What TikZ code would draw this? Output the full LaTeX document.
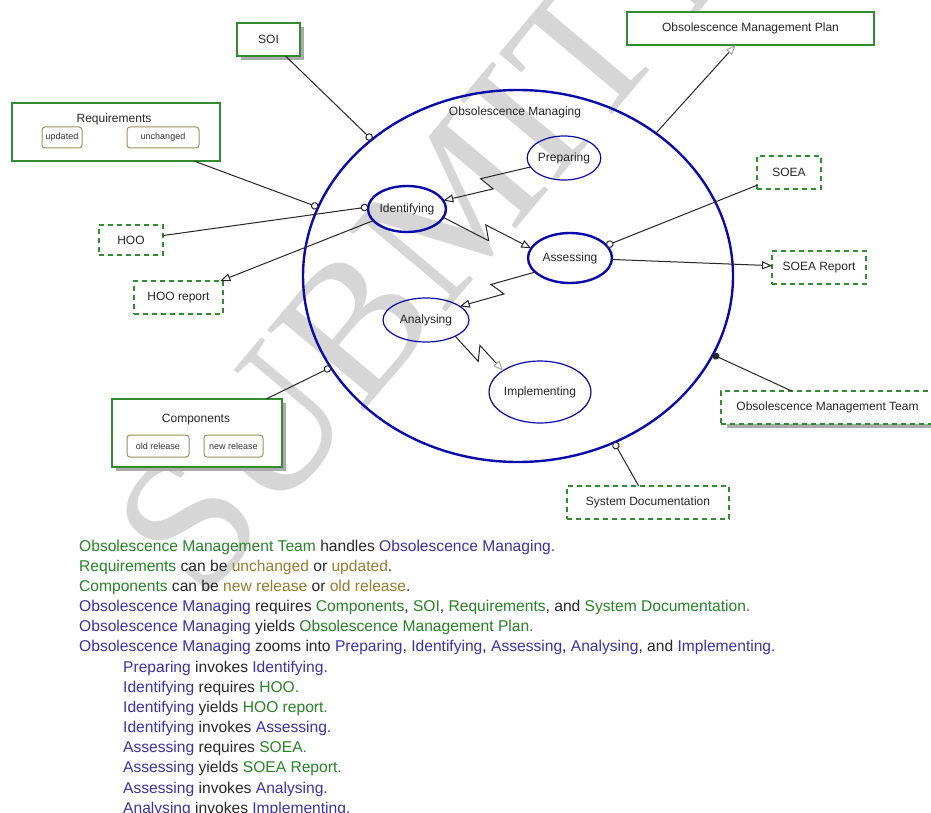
\documentclass[tikz,border=0pt]{standalone}
\usepackage{fontspec}
\setmainfont{Liberation Sans}
\newfontfamily\wmfont{Liberation Serif}
\usetikzlibrary{arrows.meta,calc,shapes.geometric}
\definecolor{objgreen}{RGB}{50,140,50}
\definecolor{procblue}{RGB}{10,10,170}
\definecolor{stateol}{RGB}{150,145,95}
\definecolor{txtblue}{RGB}{60,50,165}
\definecolor{txtgreen}{RGB}{40,130,40}
\definecolor{txtstate}{RGB}{150,125,50}
\definecolor{txtkey}{RGB}{40,40,40}
\definecolor{wmgray}{RGB}{214,214,214}
\definecolor{shadowgray}{RGB}{170,170,170}
\newcommand\tobj[1]{\textcolor{txtgreen}{#1}}
\newcommand\tproc[1]{\textcolor{txtblue}{#1}}
\newcommand\tstate[1]{\textcolor{txtstate}{#1}}
\begin{document}
\begin{tikzpicture}[x=1pt,y=-1pt,
  lbl/.style={font=\fontsize{12}{14}\selectfont, text=black!85},
  objbox/.style={rectangle, draw=objgreen, line width=1.4pt, fill=white, inner sep=0pt, outer sep=0pt, lbl},
  dobjbox/.style={objbox, dash pattern=on 5pt off 4pt},
  statebox/.style={rectangle, rounded corners=3pt, draw=stateol, line width=1pt, fill=white, inner sep=0pt, outer sep=0pt, font=\fontsize{9}{10}\selectfont, text=black!80},
  procthin/.style={ellipse, draw=procblue, line width=1.2pt, inner sep=0pt, outer sep=0pt, lbl},
  procthick/.style={procthin, line width=2.4pt},
  link/.style={draw=black!85, line width=1pt},
  instr/.style={link, -{Circle[length=7.5pt, fill=white]}},
  agent/.style={link, -{Circle[length=7pt]}},
  result/.style={link, -{Triangle[open, length=10pt, width=8pt]}},
  resultgray/.style={link, -{Triangle[open, length=10pt, width=8pt, color=black!35]}},
  invoke/.style={to path={let \p1=(\tikztostart), \p2=(\tikztotarget),
      \n1={atan2(\y2-\y1,\x2-\x1)}, \n2={veclen(\x2-\x1,\y2-\y1)} in
      -- ($(\p1)+(\n1:{(0.5*\n2+4)*1pt})+(\n1-90:7pt)$)
      -- ($(\p1)+(\n1:{(0.5*\n2-4)*1pt})+(\n1+90:7pt)$)
      -- (\p2)}},
  line/.style={anchor=base west, inner sep=0pt, font=\fontsize{15.6}{18}\selectfont, text=txtkey}
]
\useasboundingbox (0,0) rectangle (931,813);
\fill[white] (0,0) rectangle (931,813);
% watermark
\node[rotate=50, font=\wmfont\fontsize{192}{192}\selectfont, text=wmgray, inner sep=0pt] (wm) at (508,142) {SUBMITTED};

% shadows
\fill[shadowgray] (241,27) rectangle (304,60);
\fill[shadowgray] (116,403) rectangle (286,471);
\fill[shadowgray] (727,395) rectangle (940,428);

% big process
\node[procthick, minimum width=430pt, minimum height=372pt] (om) at (518,276) {};
\node[lbl] (omlbl) at (515,112) {Obsolescence Managing};

% sub-processes
\node[procthin, minimum width=72pt, minimum height=44pt] (prep) at (564,158) {Preparing};
\node[procthick, minimum width=78pt, minimum height=46pt] (ident) at (407,209) {Identifying};
\node[procthick, minimum width=84pt, minimum height=50pt] (asses) at (570,258) {Assessing};
\node[procthin, minimum width=86pt, minimum height=44pt] (analys) at (426,320) {Analysing};
\node[procthin, minimum width=90pt, minimum height=62pt] (impl) at (540,392) {Implementing};

% objects
\node[objbox, minimum width=63pt, minimum height=33pt] (soi) at (268.5,39.5) {SOI};
\node[objbox, minimum width=208pt, minimum height=58pt] (req) at (116,132) {};
\node[lbl] (reqlbl) at (114,119) {Requirements};
\node[statebox, minimum width=40pt, minimum height=21pt] (upd) at (62,137.5) {updated};
\node[statebox, minimum width=72pt, minimum height=21pt] (unch) at (163,137.5) {unchanged};
\node[objbox, minimum width=170pt, minimum height=68pt] (comp) at (197,433) {};
\node[lbl] (complbl) at (196,420) {Components};
\node[statebox, minimum width=62pt, minimum height=22pt] (oldr) at (158,446) {old release};
\node[statebox, minimum width=59pt, minimum height=22pt] (newr) at (233.5,446) {new release};
\node[objbox, minimum width=247pt, minimum height=33pt] (omp) at (750.5,28.5) {Obsolescence Management Plan};
\node[dobjbox, minimum width=64pt, minimum height=30pt] (hoo) at (131,240) {HOO};
\node[dobjbox, minimum width=89pt, minimum height=33pt] (hoor) at (178.5,297.5) {HOO report};
\node[dobjbox, minimum width=64pt, minimum height=33pt] (soea) at (789,172.5) {SOEA};
\node[dobjbox, minimum width=94pt, minimum height=33pt] (soear) at (819,267.5) {SOEA Report};
\node[dobjbox, minimum width=213pt, minimum height=33pt] (omt) at (827.5,407.5) {Obsolescence Management Team};
\node[dobjbox, minimum width=162pt, minimum height=33pt] (sd) at (648,502.5) {System Documentation};

% links to the big process
\draw[instr] (soi) -- (om.137);
\draw[instr] (req) -- (om.161);
\draw[instr] (comp) -- (om.206);
\draw[instr] (sd) -- (om.300);
\draw[agent] (omt) -- (om.338);
\draw[resultgray] (om.46) -- (omp);

% links to sub-processes
\draw[instr] (hoo) -- (ident.177);
\draw[result] (ident.199) -- (hoor);
\draw[instr] (soea) -- (asses.19);
\draw[result] (asses.-2) -- (soear);

% invocation links
\draw[result, invoke] (prep.195) to (ident.13);
\draw[result, invoke] (ident.347) to (asses.166);
\draw[result, invoke] (asses.202) to (analys.22);
\draw[resultgray, invoke] (analys.331) to (impl.150);

% OPL text
\node[line] (t1) at (79,551) {\tobj{Obsolescence Management Team} handles \tproc{Obsolescence Managing.}};
\node[line] (t2) at (79,571.2) {\tobj{Requirements} can be \tstate{unchanged} or \tstate{updated}.};
\node[line] (t3) at (79,591.3) {\tobj{Components} can be \tstate{new release} or \tstate{old release}.};
\node[line] (t4) at (79,611.5) {\tproc{Obsolescence Managing} requires \tobj{Components}, \tobj{SOI}, \tobj{Requirements}, and \tobj{System Documentation.}};
\node[line] (t5) at (79,631.7) {\tproc{Obsolescence Managing} yields \tobj{Obsolescence Management Plan.}};
\node[line] (t6) at (79,651.8) {\tproc{Obsolescence Managing} zooms into \tproc{Preparing}, \tproc{Identifying}, \tproc{Assessing}, \tproc{Analysing}, and \tproc{Implementing.}};
\node[line] (t7) at (123,672) {\tproc{Preparing} invokes \tproc{Identifying.}};
\node[line] (t8) at (123,692.2) {\tproc{Identifying} requires \tobj{HOO.}};
\node[line] (t9) at (123,712.3) {\tproc{Identifying} yields \tobj{HOO report.}};
\node[line] (t10) at (123,732.5) {\tproc{Identifying} invokes \tproc{Assessing.}};
\node[line] (t11) at (123,752.7) {\tproc{Assessing} requires \tobj{SOEA.}};
\node[line] (t12) at (123,772.8) {\tproc{Assessing} yields \tobj{SOEA Report.}};
\node[line] (t13) at (123,793) {\tproc{Assessing} invokes \tproc{Analysing.}};
\node[line] (t14) at (123,813) {\tproc{Analysing} invokes \tproc{Implementing.}};
\end{tikzpicture}
\end{document}
